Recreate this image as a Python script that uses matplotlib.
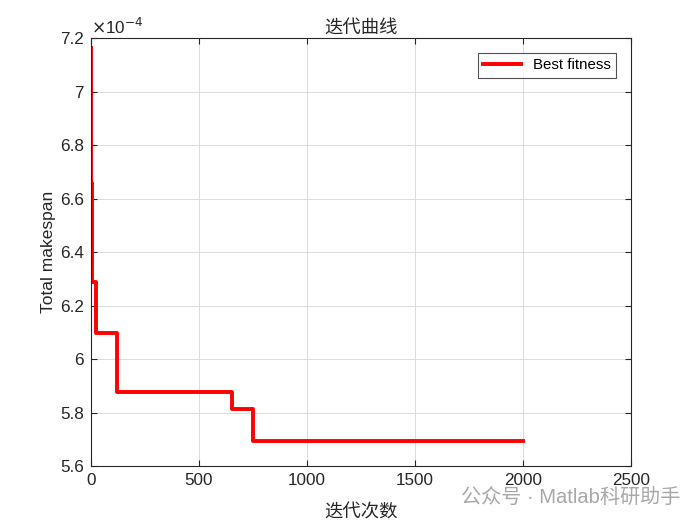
import matplotlib.pyplot as plt
from matplotlib.ticker import FuncFormatter

plt.rcParams['font.family'] = ['Liberation Sans', 'Noto Sans CJK SC', 'DejaVu Sans']

# convergence curve (step values)
iterations = [1, 2, 5, 22, 120, 653, 750, 2000]
best_fitness = [7.163e-4, 6.66e-4, 6.288e-4, 6.097e-4, 5.877e-4, 5.813e-4, 5.693e-4, 5.693e-4]

x_ticks = [0, 500, 1000, 1500, 2000, 2500]
y_ticks = [5.6e-4, 5.8e-4, 6.0e-4, 6.2e-4, 6.4e-4, 6.6e-4, 6.8e-4, 7.0e-4, 7.2e-4]

dark = '#262626'

fig = plt.figure(figsize=(7, 5.25), dpi=100)
ax = fig.add_axes([0.13, 0.1124, 0.771, 0.815])

ax.step(iterations, best_fitness, where='post', color='red', lw=2.8, label='Best fitness')

ax.set_xlim(0, 2500)
ax.set_ylim(5.6e-4, 7.2e-4)
ax.set_xticks(x_ticks)
ax.set_yticks(y_ticks)
ax.yaxis.set_major_formatter(FuncFormatter(lambda v, p: f'{v * 1e4:g}'))
ax.tick_params(direction='in', length=4, labelsize=12.3, colors=dark, top=True, right=True,
               labeltop=False, labelright=False, pad=5)
for s in ax.spines.values():
    s.set_color(dark)
    s.set_linewidth(0.8)
ax.grid(True, color='#dcdcdc', lw=0.7)
ax.set_axisbelow(True)

ax.text(0.0, 1.003, r'$\times$10$^{-4}$', transform=ax.transAxes, fontsize=12.3,
        color=dark, ha='left', va='bottom')
ax.set_title('迭代曲线', fontsize=13.2, color=dark, pad=3)
ax.set_xlabel('迭代次数', fontsize=13.2, color=dark, labelpad=12)
ax.set_ylabel('Total makespan', fontsize=12.5, color=dark, labelpad=3)

leg = ax.legend(loc='upper right', fontsize=10.8, frameon=True, fancybox=False,
                edgecolor=dark, handlelength=2.5, borderaxespad=1.0, borderpad=0.35)
leg.get_frame().set_linewidth(0.8)
for t in leg.get_texts():
    t.set_color('black')

fig.text(0.972, 0.035, '公众号 · Matlab科研助手', fontsize=14.5, color='#a8a8a8',
         ha='right', va='bottom')

fig.savefig('out.png', dpi=100, facecolor='white')
